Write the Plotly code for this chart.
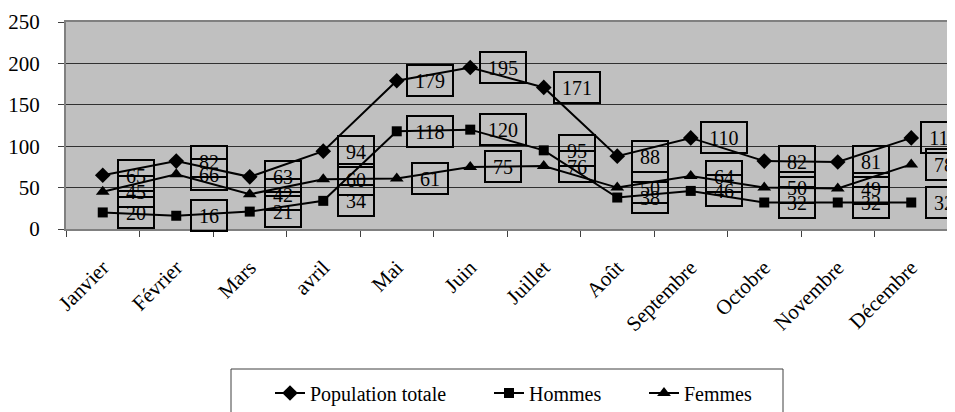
import plotly.graph_objects as go

mois = ["Janvier", "Février", "Mars", "avril", "Mai", "Juin", "Juillet",
        "Août", "Septembre", "Octobre", "Novembre", "Décembre"]
population_totale = [65, 82, 63, 94, 179, 195, 171, 88, 110, 82, 81, 110]
hommes = [20, 16, 21, 34, 118, 120, 95, 38, 46, 32, 32, 32]
femmes = [45, 66, 42, 60, 61, 75, 76, 50, 64, 50, 49, 78]
y_ticks = [0, 50, 100, 150, 200, 250]

FONT = "Liberation Serif"

series = [
    ("Population totale", population_totale, "diamond", 12, "legend", 270),
    ("Hommes", hommes, "square", 10, "legend2", 489),
    ("Femmes", femmes, "triangle-up", 12, "legend3", 644),
]

# page body has an 8px margin; compensate so the plot lands where the reference has it
L, T, W, H = 58, 14, 882, 207

fig = go.Figure()
legends = {}
for name, vals, sym, sz, leg, lx in series:
    fig.add_trace(go.Scatter(
        x=mois, y=vals, name=name, mode="lines+markers",
        line=dict(color="black", width=2),
        marker=dict(symbol=sym, size=sz, color="black"),
        legend=leg,
    ))
    legends[leg] = dict(
        orientation="h", x=(lx - 66) / W, xanchor="left",
        y=(229 - 393) / H, yanchor="middle",
        font=dict(family=FONT, size=20, color="black"),
        bgcolor="rgba(0,0,0,0)", borderwidth=0,
    )

annotations = []
for name, vals, sym, sz, leg, lx in series:
    for m, v in zip(mois, vals):
        n = len(str(v))
        annotations.append(dict(
            x=m, y=v, xref="x", yref="y", text=str(v), showarrow=False,
            xshift=33, font=dict(family=FONT, size=20, color="black"),
            bordercolor="black", borderwidth=2, borderpad=0,
            width=14 + 10 * n, height=29, align="center", valign="middle",
        ))

fig.update_layout(
    width=947, height=404,
    margin=dict(l=L, r=947 - L - W, t=T, b=404 - T - H, autoexpand=False),
    paper_bgcolor="white", plot_bgcolor="#C0C0C0",
    font=dict(family=FONT, size=20, color="black"),
    showlegend=True,
    annotations=annotations,
    shapes=[dict(
        type="rect", xref="paper", yref="paper",
        x0=(231 - 66) / W, x1=(783 - 66) / W,
        y0=(229 - 430) / H, y1=(229 - 369) / H,
        line=dict(color="#404040", width=1), fillcolor="rgba(0,0,0,0)",
        layer="above",
    )],
    **legends,
)
fig.update_xaxes(
    type="category", range=[-0.5, 11.5], tickangle=-45,
    tickson="boundaries", ticks="outside", ticklen=6, tickcolor="#404040",
    ticklabelstandoff=16,
    showline=True, linecolor="#808080", linewidth=2, mirror=True,
    showgrid=False, tickfont=dict(family=FONT, size=21, color="black"),
)
fig.update_yaxes(
    range=[0, 250], tickvals=y_ticks, ticks="outside", ticklen=6,
    tickcolor="#404040", ticklabelstandoff=14,
    showline=True, linecolor="#808080", linewidth=2,
    mirror=True, showgrid=True, gridcolor="#303030", gridwidth=1,
    zeroline=False, tickfont=dict(family=FONT, size=21, color="black"),
)

fig.write_html("out.html")
